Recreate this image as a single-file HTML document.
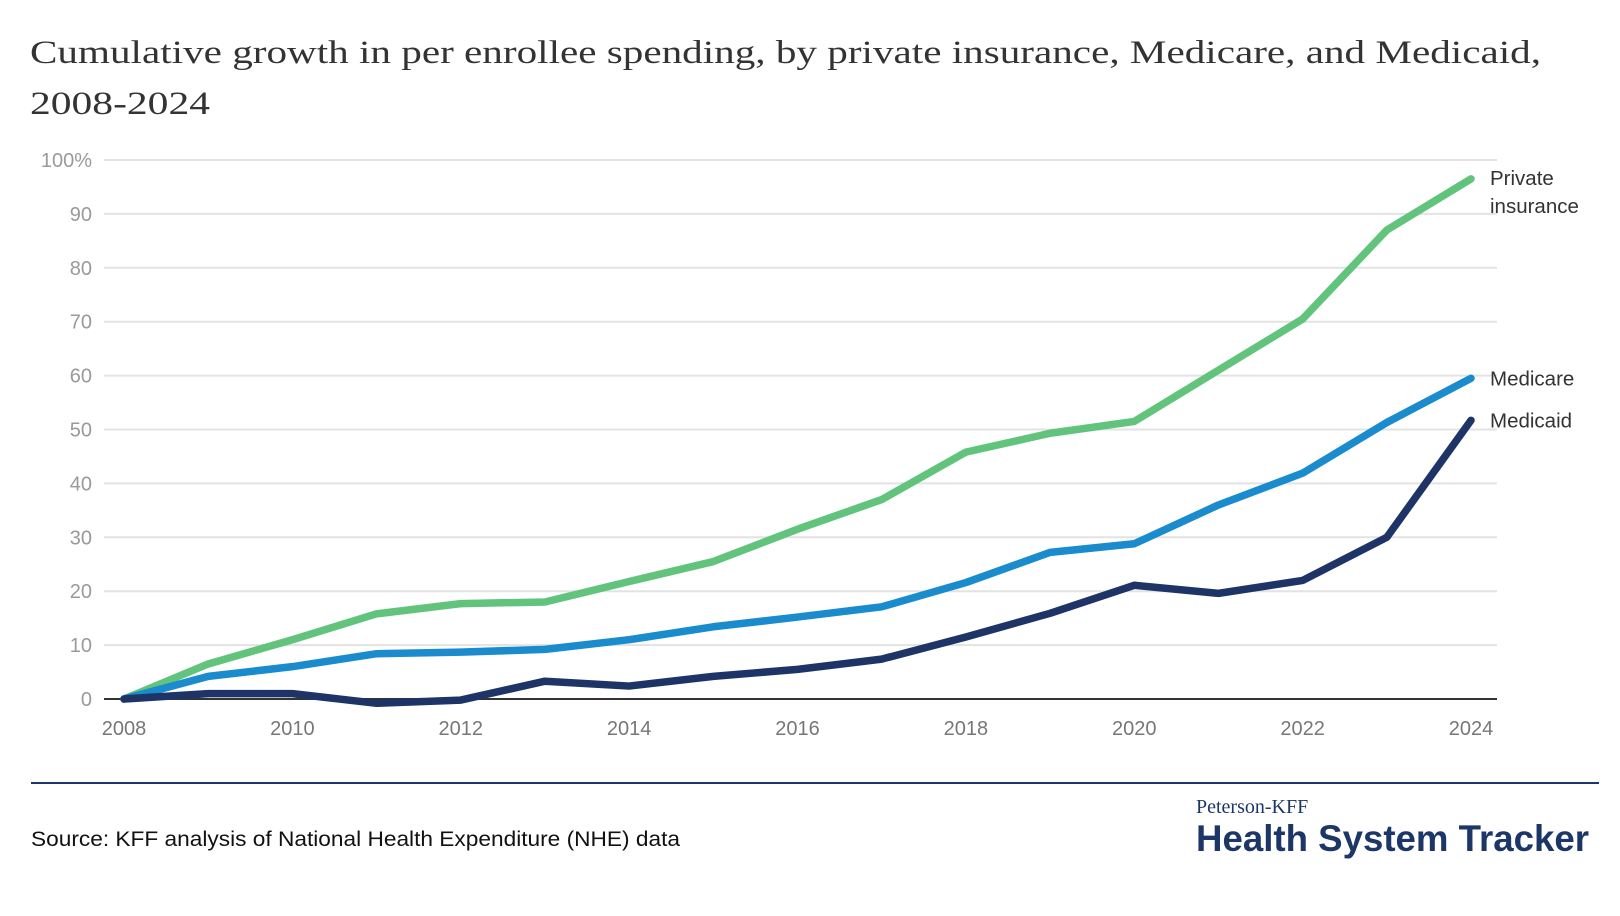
<!DOCTYPE html>
<html><head><meta charset="utf-8"><style>
html,body{margin:0;padding:0;background:#fff;width:1620px;height:916px;overflow:hidden}
svg{display:block}
</style></head><body>
<svg id="chart" width="1620" height="916" xmlns="http://www.w3.org/2000/svg">
<text x="30" y="63" font-family="Liberation Serif, serif" font-size="33" fill="#333" textLength="1511" lengthAdjust="spacingAndGlyphs">Cumulative growth in per enrollee spending, by private insurance, Medicare, and Medicaid,</text>
<text x="30" y="114" font-family="Liberation Serif, serif" font-size="33" fill="#333" textLength="180" lengthAdjust="spacingAndGlyphs">2008-2024</text>
<g id="grid"></g>
<g id="yticks"></g>
<g id="xticks"></g>
<g id="lines"></g>
<line x1="31" y1="783" x2="1599" y2="783" stroke="#1c3668" stroke-width="2"/>
<text x="31" y="846" font-family="Liberation Sans, sans-serif" font-size="21" fill="#111" textLength="649" lengthAdjust="spacingAndGlyphs">Source: KFF analysis of National Health Expenditure (NHE) data</text>
<text x="1196" y="813" font-family="Liberation Serif, serif" font-size="20" fill="#1c3668">Peterson-KFF</text>
<text x="1196" y="851" font-family="Liberation Sans, sans-serif" font-weight="bold" font-size="37" fill="#1c3668" textLength="393" lengthAdjust="spacingAndGlyphs">Health System Tracker</text>
</svg>
<script>
const years=[2008,2009,2010,2011,2012,2013,2014,2015,2016,2017,2018,2019,2020,2021,2022,2023,2024];
const privateIns=[0,6.5,11,15.8,17.7,18,21.8,25.5,31.5,37,45.8,49.3,51.5,61,70.5,87,96.5];
const medicare=[0,4.2,6,8.4,8.7,9.2,11,13.4,15.2,17.1,21.6,27.2,28.8,36,41.9,51.3,59.5];
const medicaid=[0,1,1,-0.8,-0.2,3.3,2.4,4.2,5.5,7.4,11.5,15.9,21.1,19.6,22,30,51.7];
const yTicks=[0,10,20,30,40,50,60,70,80,90,100];
const xTicks=[2008,2010,2012,2014,2016,2018,2020,2022,2024];
const NS='http://www.w3.org/2000/svg';
const x=v=>124+(v-2008)*(1471-124)/16;
const y=v=>699-v*(699-160)/100;
function mk(tag,attrs,parent){const e=document.createElementNS(NS,tag);for(const k in attrs)e.setAttribute(k,attrs[k]);parent.appendChild(e);return e;}
const grid=document.getElementById('grid'),yt=document.getElementById('yticks'),xt=document.getElementById('xticks'),lines=document.getElementById('lines');
yTicks.forEach(t=>{
  const l=mk('line',{x1:104,x2:1497,y1:y(t),y2:y(t),stroke:t===0?'#333':'#e3e3e3','stroke-width':2},grid);
  
  
  const tx=mk('text',{x:92,y:y(t)+7,'text-anchor':'end','font-family':'Liberation Sans, sans-serif','font-size':20,fill:'#9a9a9a'},yt);
  tx.textContent=t===100?'100%':String(t);
  
  
});
xTicks.forEach(t=>{
  const tx=mk('text',{x:x(t),y:735,'text-anchor':'middle','font-family':'Liberation Sans, sans-serif','font-size':20,fill:'#777'},xt);
  tx.textContent=String(t);
  
  
});
const series=[[privateIns,'#62c47c','private-insurance-line'],[medicare,'#1a8bcc','medicare-line'],[medicaid,'#1e3466','medicaid-line']];
series.forEach(([vals,col,name])=>{
  const p=mk('polyline',{points:vals.map((v,i)=>x(years[i])+','+y(v)).join(' '),fill:'none',stroke:col,'stroke-width':7.5,'stroke-linejoin':'round','stroke-linecap':'round'},lines);
  
  
});
const lab=(txt,vy,name)=>{const t=mk('text',{x:1490,y:vy,'font-family':'Liberation Sans, sans-serif','font-size':20.5,fill:'#333'},lines);t.textContent=txt;
  
  };
lab('Private',y(privateIns[16])+6,'label-private-insurance');
lab('insurance',y(privateIns[16])+34,'label-private-insurance-line2');
lab('Medicare',y(medicare[16])+7,'label-medicare');
lab('Medicaid',y(medicaid[16])+7,'label-medicaid');
</script>
</body></html>
